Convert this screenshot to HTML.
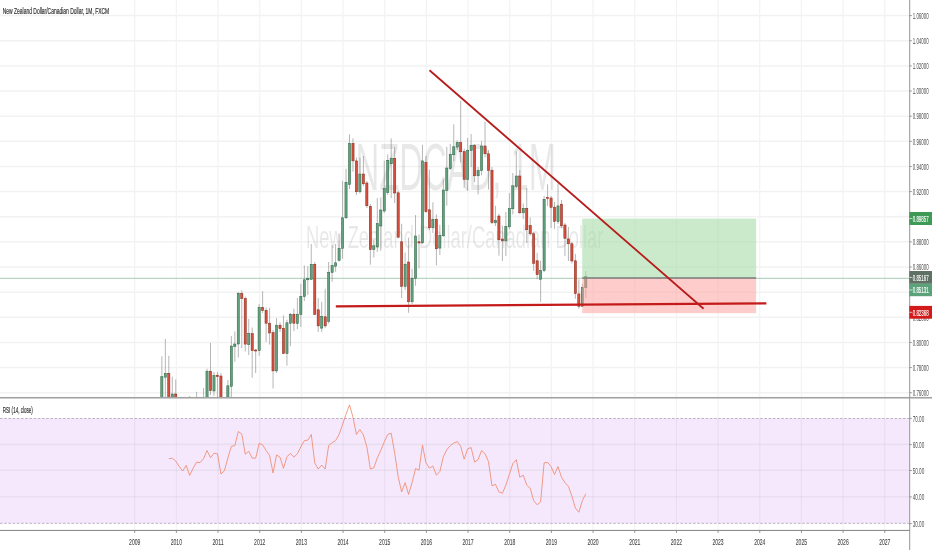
<!DOCTYPE html>
<html lang="en"><head><meta charset="utf-8"><title>NZDCAD 1M chart</title>
<style>html,body{margin:0;padding:0;background:#fff}body{width:932px;height:550px;overflow:hidden}svg{display:block}text{font-family:"Liberation Sans",Arial,sans-serif}</style>
</head><body>
<svg width="932" height="550" viewBox="0 0 932 550">
<rect width="932" height="550" fill="#ffffff"/>
<defs>
<clipPath id="mainclip"><rect x="0" y="0" width="909.7" height="397.3"/></clipPath>
</defs>
<g stroke="#f2f2f2" stroke-width="1.5">
<line x1="0" y1="15.60" x2="909.7" y2="15.60"/>
<line x1="0" y1="40.74" x2="909.7" y2="40.74"/>
<line x1="0" y1="65.88" x2="909.7" y2="65.88"/>
<line x1="0" y1="91.02" x2="909.7" y2="91.02"/>
<line x1="0" y1="116.16" x2="909.7" y2="116.16"/>
<line x1="0" y1="141.30" x2="909.7" y2="141.30"/>
<line x1="0" y1="166.44" x2="909.7" y2="166.44"/>
<line x1="0" y1="191.58" x2="909.7" y2="191.58"/>
<line x1="0" y1="216.72" x2="909.7" y2="216.72"/>
<line x1="0" y1="241.86" x2="909.7" y2="241.86"/>
<line x1="0" y1="267.00" x2="909.7" y2="267.00"/>
<line x1="0" y1="292.14" x2="909.7" y2="292.14"/>
<line x1="0" y1="317.28" x2="909.7" y2="317.28"/>
<line x1="0" y1="342.42" x2="909.7" y2="342.42"/>
<line x1="0" y1="367.56" x2="909.7" y2="367.56"/>
<line x1="0" y1="392.70" x2="909.7" y2="392.70"/>
<line x1="134.70" y1="0" x2="134.70" y2="397.3" stroke="#f3f3f3" stroke-width="1.25"/>
<line x1="176.37" y1="0" x2="176.37" y2="397.3" stroke="#f3f3f3" stroke-width="1.25"/>
<line x1="218.04" y1="0" x2="218.04" y2="397.3" stroke="#f3f3f3" stroke-width="1.25"/>
<line x1="259.71" y1="0" x2="259.71" y2="397.3" stroke="#f3f3f3" stroke-width="1.25"/>
<line x1="301.38" y1="0" x2="301.38" y2="397.3" stroke="#f3f3f3" stroke-width="1.25"/>
<line x1="343.05" y1="0" x2="343.05" y2="397.3" stroke="#f3f3f3" stroke-width="1.25"/>
<line x1="384.72" y1="0" x2="384.72" y2="397.3" stroke="#f3f3f3" stroke-width="1.25"/>
<line x1="426.39" y1="0" x2="426.39" y2="397.3" stroke="#f3f3f3" stroke-width="1.25"/>
<line x1="468.06" y1="0" x2="468.06" y2="397.3" stroke="#f3f3f3" stroke-width="1.25"/>
<line x1="509.73" y1="0" x2="509.73" y2="397.3" stroke="#f3f3f3" stroke-width="1.25"/>
<line x1="551.40" y1="0" x2="551.40" y2="397.3" stroke="#f3f3f3" stroke-width="1.25"/>
<line x1="593.07" y1="0" x2="593.07" y2="397.3" stroke="#f3f3f3" stroke-width="1.25"/>
<line x1="634.74" y1="0" x2="634.74" y2="397.3" stroke="#f3f3f3" stroke-width="1.25"/>
<line x1="676.41" y1="0" x2="676.41" y2="397.3" stroke="#f3f3f3" stroke-width="1.25"/>
<line x1="718.08" y1="0" x2="718.08" y2="397.3" stroke="#f3f3f3" stroke-width="1.25"/>
<line x1="759.75" y1="0" x2="759.75" y2="397.3" stroke="#f3f3f3" stroke-width="1.25"/>
<line x1="801.42" y1="0" x2="801.42" y2="397.3" stroke="#f3f3f3" stroke-width="1.25"/>
<line x1="843.09" y1="0" x2="843.09" y2="397.3" stroke="#f3f3f3" stroke-width="1.25"/>
<line x1="884.76" y1="0" x2="884.76" y2="397.3" stroke="#f3f3f3" stroke-width="1.25"/>
</g>
<g fill="#000000" fill-opacity="0.092">
<text x="355.6" y="190.3" font-size="66" textLength="200.5" lengthAdjust="spacingAndGlyphs">NZDCAD, 1M</text>
<text x="305.9" y="248.2" font-size="30.7" textLength="297.5" lengthAdjust="spacingAndGlyphs">New Zealand Dollar/Canadian Dollar</text>
</g>
<line x1="0" y1="278.3" x2="909.7" y2="278.3" stroke="#9cc6ac" stroke-width="0.9"/>
<g clip-path="url(#mainclip)">
<g stroke="#737375" stroke-width="0.7" stroke-opacity="0.75"><line x1="161.85" y1="356.3" x2="161.85" y2="410.0"/><line x1="165.33" y1="339.0" x2="165.33" y2="400.0"/><line x1="168.80" y1="355.8" x2="168.80" y2="405.0"/><line x1="172.28" y1="376.7" x2="172.28" y2="402.0"/><line x1="175.75" y1="379.5" x2="175.75" y2="405.0"/><line x1="189.65" y1="396.0" x2="189.65" y2="400.0"/><line x1="196.60" y1="391.8" x2="196.60" y2="400.0"/><line x1="203.55" y1="388.0" x2="203.55" y2="400.0"/><line x1="207.03" y1="368.7" x2="207.03" y2="405.0"/><line x1="210.50" y1="342.9" x2="210.50" y2="395.0"/><line x1="213.98" y1="372.0" x2="213.98" y2="396.0"/><line x1="217.45" y1="372.0" x2="217.45" y2="400.0"/><line x1="220.93" y1="373.0" x2="220.93" y2="405.0"/><line x1="227.88" y1="380.0" x2="227.88" y2="405.0"/><line x1="231.35" y1="336.0" x2="231.35" y2="397.0"/><line x1="234.83" y1="331.4" x2="234.83" y2="361.8"/><line x1="238.30" y1="292.0" x2="238.30" y2="357.5"/><line x1="241.78" y1="290.3" x2="241.78" y2="348.0"/><line x1="245.25" y1="296.6" x2="245.25" y2="351.5"/><line x1="248.73" y1="318.9" x2="248.73" y2="355.0"/><line x1="252.20" y1="327.5" x2="252.20" y2="377.8"/><line x1="255.68" y1="349.0" x2="255.68" y2="373.0"/><line x1="259.15" y1="304.0" x2="259.15" y2="355.8"/><line x1="262.62" y1="291.3" x2="262.62" y2="313.0"/><line x1="266.10" y1="307.5" x2="266.10" y2="342.0"/><line x1="269.58" y1="307.7" x2="269.58" y2="344.6"/><line x1="273.05" y1="330.0" x2="273.05" y2="388.4"/><line x1="276.52" y1="318.0" x2="276.52" y2="373.0"/><line x1="280.00" y1="322.4" x2="280.00" y2="332.0"/><line x1="283.48" y1="315.4" x2="283.48" y2="354.0"/><line x1="286.95" y1="319.7" x2="286.95" y2="365.7"/><line x1="290.43" y1="313.0" x2="290.43" y2="346.3"/><line x1="293.90" y1="308.6" x2="293.90" y2="331.0"/><line x1="297.38" y1="298.0" x2="297.38" y2="329.0"/><line x1="300.85" y1="283.8" x2="300.85" y2="327.0"/><line x1="304.33" y1="265.4" x2="304.33" y2="301.0"/><line x1="307.80" y1="266.3" x2="307.80" y2="295.0"/><line x1="311.27" y1="244.0" x2="311.27" y2="280.0"/><line x1="314.75" y1="262.0" x2="314.75" y2="315.0"/><line x1="318.23" y1="298.0" x2="318.23" y2="332.0"/><line x1="321.70" y1="301.8" x2="321.70" y2="332.0"/><line x1="325.18" y1="288.8" x2="325.18" y2="328.0"/><line x1="328.65" y1="262.0" x2="328.65" y2="323.6"/><line x1="332.12" y1="245.2" x2="332.12" y2="281.8"/><line x1="335.60" y1="244.0" x2="335.60" y2="271.8"/><line x1="339.08" y1="233.5" x2="339.08" y2="261.5"/><line x1="342.55" y1="180.8" x2="342.55" y2="258.7"/><line x1="346.02" y1="168.8" x2="346.02" y2="219.0"/><line x1="349.50" y1="134.3" x2="349.50" y2="189.0"/><line x1="352.98" y1="138.3" x2="352.98" y2="171.8"/><line x1="356.45" y1="157.5" x2="356.45" y2="195.0"/><line x1="359.93" y1="157.5" x2="359.93" y2="193.6"/><line x1="363.40" y1="156.0" x2="363.40" y2="186.0"/><line x1="366.88" y1="181.0" x2="366.88" y2="208.0"/><line x1="370.35" y1="204.0" x2="370.35" y2="264.7"/><line x1="373.83" y1="240.0" x2="373.83" y2="257.5"/><line x1="377.30" y1="198.0" x2="377.30" y2="252.0"/><line x1="380.77" y1="197.4" x2="380.77" y2="250.8"/><line x1="384.25" y1="160.6" x2="384.25" y2="213.0"/><line x1="387.73" y1="154.5" x2="387.73" y2="195.0"/><line x1="391.20" y1="138.3" x2="391.20" y2="198.1"/><line x1="394.68" y1="147.0" x2="394.68" y2="203.0"/><line x1="398.15" y1="190.6" x2="398.15" y2="238.3"/><line x1="401.62" y1="223.8" x2="401.62" y2="298.0"/><line x1="405.10" y1="252.6" x2="405.10" y2="290.0"/><line x1="408.58" y1="237.6" x2="408.58" y2="312.8"/><line x1="412.05" y1="268.8" x2="412.05" y2="304.0"/><line x1="415.53" y1="215.0" x2="415.53" y2="285.8"/><line x1="419.00" y1="234.6" x2="419.00" y2="268.3"/><line x1="422.48" y1="144.8" x2="422.48" y2="244.0"/><line x1="425.95" y1="156.0" x2="425.95" y2="212.8"/><line x1="429.43" y1="169.6" x2="429.43" y2="230.0"/><line x1="432.90" y1="202.3" x2="432.90" y2="233.0"/><line x1="436.38" y1="214.3" x2="436.38" y2="265.4"/><line x1="439.85" y1="224.8" x2="439.85" y2="254.9"/><line x1="443.33" y1="179.3" x2="443.33" y2="236.8"/><line x1="446.80" y1="146.9" x2="446.80" y2="205.7"/><line x1="450.28" y1="144.0" x2="450.28" y2="170.0"/><line x1="453.75" y1="124.3" x2="453.75" y2="161.3"/><line x1="457.23" y1="140.3" x2="457.23" y2="150.0"/><line x1="460.70" y1="100.8" x2="460.70" y2="162.5"/><line x1="464.18" y1="148.6" x2="464.18" y2="188.0"/><line x1="467.65" y1="137.9" x2="467.65" y2="191.0"/><line x1="471.12" y1="134.0" x2="471.12" y2="167.0"/><line x1="474.60" y1="144.0" x2="474.60" y2="182.0"/><line x1="478.08" y1="167.0" x2="478.08" y2="194.4"/><line x1="481.55" y1="141.0" x2="481.55" y2="175.3"/><line x1="485.03" y1="121.8" x2="485.03" y2="157.5"/><line x1="488.50" y1="150.0" x2="488.50" y2="189.6"/><line x1="491.98" y1="167.0" x2="491.98" y2="224.0"/><line x1="495.45" y1="205.8" x2="495.45" y2="226.0"/><line x1="498.93" y1="213.6" x2="498.93" y2="255.7"/><line x1="502.40" y1="225.6" x2="502.40" y2="261.0"/><line x1="505.88" y1="212.0" x2="505.88" y2="256.0"/><line x1="509.35" y1="193.0" x2="509.35" y2="229.5"/><line x1="512.83" y1="173.0" x2="512.83" y2="214.4"/><line x1="516.30" y1="151.3" x2="516.30" y2="188.0"/><line x1="519.78" y1="170.0" x2="519.78" y2="214.0"/><line x1="523.25" y1="203.5" x2="523.25" y2="219.0"/><line x1="526.73" y1="188.2" x2="526.73" y2="243.0"/><line x1="530.20" y1="217.5" x2="530.20" y2="235.6"/><line x1="533.67" y1="232.0" x2="533.67" y2="271.0"/><line x1="537.15" y1="252.8" x2="537.15" y2="279.3"/><line x1="540.62" y1="260.7" x2="540.62" y2="301.8"/><line x1="544.10" y1="196.0" x2="544.10" y2="272.0"/><line x1="547.58" y1="184.3" x2="547.58" y2="206.0"/><line x1="551.05" y1="196.0" x2="551.05" y2="228.0"/><line x1="554.53" y1="201.8" x2="554.53" y2="228.8"/><line x1="558.00" y1="183.6" x2="558.00" y2="224.0"/><line x1="561.48" y1="200.0" x2="561.48" y2="228.0"/><line x1="564.95" y1="223.0" x2="564.95" y2="256.0"/><line x1="568.42" y1="227.0" x2="568.42" y2="261.0"/><line x1="571.90" y1="242.0" x2="571.90" y2="263.5"/><line x1="575.38" y1="254.0" x2="575.38" y2="298.8"/><line x1="578.85" y1="279.3" x2="578.85" y2="308.6"/><line x1="582.33" y1="283.8" x2="582.33" y2="307.0"/><line x1="585.80" y1="271.0" x2="585.80" y2="298.0"/></g>
<rect x="160.75" y="376.7" width="2.2" height="33.3" fill="#63a07d" stroke="#2c6443" stroke-width="0.5"/><rect x="164.23" y="373.3" width="2.2" height="3.9" fill="#63a07d" stroke="#2c6443" stroke-width="0.5"/><rect x="167.70" y="373.3" width="2.2" height="31.7" fill="#d44f3d" stroke="#85281b" stroke-width="0.5"/><rect x="171.18" y="394.0" width="2.2" height="8.0" fill="#63a07d" stroke="#2c6443" stroke-width="0.5"/><rect x="174.65" y="394.0" width="2.2" height="11.0" fill="#d44f3d" stroke="#85281b" stroke-width="0.5"/><rect x="205.93" y="371.2" width="2.2" height="33.8" fill="#63a07d" stroke="#2c6443" stroke-width="0.5"/><rect x="209.40" y="371.2" width="2.2" height="19.4" fill="#d44f3d" stroke="#85281b" stroke-width="0.5"/><rect x="212.88" y="375.5" width="2.2" height="15.5" fill="#63a07d" stroke="#2c6443" stroke-width="0.5"/><rect x="216.35" y="375.2" width="2.2" height="1.5" fill="#d44f3d" stroke="#85281b" stroke-width="0.5"/><rect x="219.83" y="376.0" width="2.2" height="29.0" fill="#d44f3d" stroke="#85281b" stroke-width="0.5"/><rect x="226.78" y="385.8" width="2.2" height="19.2" fill="#63a07d" stroke="#2c6443" stroke-width="0.5"/><rect x="230.25" y="346.0" width="2.2" height="40.3" fill="#63a07d" stroke="#2c6443" stroke-width="0.5"/><rect x="233.73" y="344.0" width="2.2" height="2.7" fill="#63a07d" stroke="#2c6443" stroke-width="0.5"/><rect x="237.20" y="293.3" width="2.2" height="50.7" fill="#63a07d" stroke="#2c6443" stroke-width="0.5"/><rect x="240.68" y="293.6" width="2.2" height="5.0" fill="#d44f3d" stroke="#85281b" stroke-width="0.5"/><rect x="244.15" y="298.6" width="2.2" height="45.5" fill="#d44f3d" stroke="#85281b" stroke-width="0.5"/><rect x="247.63" y="333.5" width="2.2" height="11.1" fill="#63a07d" stroke="#2c6443" stroke-width="0.5"/><rect x="251.10" y="333.5" width="2.2" height="17.1" fill="#d44f3d" stroke="#85281b" stroke-width="0.5"/><rect x="254.58" y="350.0" width="2.2" height="1.0" fill="#d44f3d" stroke="#85281b" stroke-width="0.5"/><rect x="258.05" y="307.3" width="2.2" height="43.3" fill="#63a07d" stroke="#2c6443" stroke-width="0.5"/><rect x="261.52" y="307.4" width="2.2" height="3.2" fill="#d44f3d" stroke="#85281b" stroke-width="0.5"/><rect x="265.00" y="310.3" width="2.2" height="12.9" fill="#d44f3d" stroke="#85281b" stroke-width="0.5"/><rect x="268.48" y="323.2" width="2.2" height="9.8" fill="#d44f3d" stroke="#85281b" stroke-width="0.5"/><rect x="271.95" y="332.6" width="2.2" height="38.3" fill="#d44f3d" stroke="#85281b" stroke-width="0.5"/><rect x="275.42" y="325.2" width="2.2" height="45.7" fill="#63a07d" stroke="#2c6443" stroke-width="0.5"/><rect x="278.90" y="325.2" width="2.2" height="3.5" fill="#d44f3d" stroke="#85281b" stroke-width="0.5"/><rect x="282.38" y="328.3" width="2.2" height="25.3" fill="#d44f3d" stroke="#85281b" stroke-width="0.5"/><rect x="285.85" y="322.8" width="2.2" height="30.8" fill="#63a07d" stroke="#2c6443" stroke-width="0.5"/><rect x="289.32" y="314.2" width="2.2" height="9.0" fill="#63a07d" stroke="#2c6443" stroke-width="0.5"/><rect x="292.80" y="314.2" width="2.2" height="9.0" fill="#d44f3d" stroke="#85281b" stroke-width="0.5"/><rect x="296.27" y="314.2" width="2.2" height="9.3" fill="#63a07d" stroke="#2c6443" stroke-width="0.5"/><rect x="299.75" y="296.3" width="2.2" height="18.3" fill="#63a07d" stroke="#2c6443" stroke-width="0.5"/><rect x="303.23" y="279.8" width="2.2" height="16.8" fill="#63a07d" stroke="#2c6443" stroke-width="0.5"/><rect x="306.70" y="278.6" width="2.2" height="1.2" fill="#63a07d" stroke="#2c6443" stroke-width="0.5"/><rect x="310.17" y="264.3" width="2.2" height="15.0" fill="#63a07d" stroke="#2c6443" stroke-width="0.5"/><rect x="313.65" y="264.3" width="2.2" height="50.0" fill="#d44f3d" stroke="#85281b" stroke-width="0.5"/><rect x="317.12" y="309.8" width="2.2" height="16.1" fill="#d44f3d" stroke="#85281b" stroke-width="0.5"/><rect x="320.60" y="316.5" width="2.2" height="11.6" fill="#63a07d" stroke="#2c6443" stroke-width="0.5"/><rect x="324.07" y="316.8" width="2.2" height="9.1" fill="#d44f3d" stroke="#85281b" stroke-width="0.5"/><rect x="327.55" y="272.2" width="2.2" height="49.2" fill="#63a07d" stroke="#2c6443" stroke-width="0.5"/><rect x="331.02" y="265.5" width="2.2" height="7.0" fill="#63a07d" stroke="#2c6443" stroke-width="0.5"/><rect x="334.50" y="262.8" width="2.2" height="3.4" fill="#63a07d" stroke="#2c6443" stroke-width="0.5"/><rect x="337.98" y="248.3" width="2.2" height="12.0" fill="#63a07d" stroke="#2c6443" stroke-width="0.5"/><rect x="341.45" y="217.8" width="2.2" height="30.6" fill="#63a07d" stroke="#2c6443" stroke-width="0.5"/><rect x="344.92" y="182.3" width="2.2" height="35.5" fill="#63a07d" stroke="#2c6443" stroke-width="0.5"/><rect x="348.40" y="143.3" width="2.2" height="41.3" fill="#63a07d" stroke="#2c6443" stroke-width="0.5"/><rect x="351.88" y="143.3" width="2.2" height="17.6" fill="#d44f3d" stroke="#85281b" stroke-width="0.5"/><rect x="355.35" y="160.9" width="2.2" height="30.9" fill="#d44f3d" stroke="#85281b" stroke-width="0.5"/><rect x="358.82" y="174.0" width="2.2" height="17.8" fill="#63a07d" stroke="#2c6443" stroke-width="0.5"/><rect x="362.30" y="174.0" width="2.2" height="9.8" fill="#d44f3d" stroke="#85281b" stroke-width="0.5"/><rect x="365.77" y="183.0" width="2.2" height="22.8" fill="#d44f3d" stroke="#85281b" stroke-width="0.5"/><rect x="369.25" y="206.3" width="2.2" height="43.3" fill="#d44f3d" stroke="#85281b" stroke-width="0.5"/><rect x="372.73" y="245.8" width="2.2" height="3.8" fill="#63a07d" stroke="#2c6443" stroke-width="0.5"/><rect x="376.20" y="223.6" width="2.2" height="23.4" fill="#63a07d" stroke="#2c6443" stroke-width="0.5"/><rect x="379.67" y="210.0" width="2.2" height="16.0" fill="#63a07d" stroke="#2c6443" stroke-width="0.5"/><rect x="383.15" y="188.6" width="2.2" height="22.4" fill="#63a07d" stroke="#2c6443" stroke-width="0.5"/><rect x="386.62" y="160.3" width="2.2" height="32.3" fill="#63a07d" stroke="#2c6443" stroke-width="0.5"/><rect x="390.10" y="158.2" width="2.2" height="5.6" fill="#63a07d" stroke="#2c6443" stroke-width="0.5"/><rect x="393.57" y="158.3" width="2.2" height="34.7" fill="#d44f3d" stroke="#85281b" stroke-width="0.5"/><rect x="397.05" y="192.8" width="2.2" height="44.4" fill="#d44f3d" stroke="#85281b" stroke-width="0.5"/><rect x="400.52" y="241.8" width="2.2" height="44.7" fill="#d44f3d" stroke="#85281b" stroke-width="0.5"/><rect x="404.00" y="264.2" width="2.2" height="22.3" fill="#63a07d" stroke="#2c6443" stroke-width="0.5"/><rect x="407.48" y="262.0" width="2.2" height="39.8" fill="#d44f3d" stroke="#85281b" stroke-width="0.5"/><rect x="410.95" y="278.2" width="2.2" height="23.6" fill="#63a07d" stroke="#2c6443" stroke-width="0.5"/><rect x="414.43" y="236.0" width="2.2" height="42.5" fill="#63a07d" stroke="#2c6443" stroke-width="0.5"/><rect x="417.90" y="241.8" width="2.2" height="1.2" fill="#d44f3d" stroke="#85281b" stroke-width="0.5"/><rect x="421.38" y="160.9" width="2.2" height="81.9" fill="#63a07d" stroke="#2c6443" stroke-width="0.5"/><rect x="424.85" y="162.4" width="2.2" height="49.3" fill="#d44f3d" stroke="#85281b" stroke-width="0.5"/><rect x="428.32" y="209.8" width="2.2" height="18.0" fill="#d44f3d" stroke="#85281b" stroke-width="0.5"/><rect x="431.80" y="219.2" width="2.2" height="8.6" fill="#63a07d" stroke="#2c6443" stroke-width="0.5"/><rect x="435.27" y="219.2" width="2.2" height="29.6" fill="#d44f3d" stroke="#85281b" stroke-width="0.5"/><rect x="438.75" y="235.3" width="2.2" height="12.8" fill="#63a07d" stroke="#2c6443" stroke-width="0.5"/><rect x="442.23" y="190.0" width="2.2" height="45.8" fill="#63a07d" stroke="#2c6443" stroke-width="0.5"/><rect x="445.70" y="168.0" width="2.2" height="22.5" fill="#63a07d" stroke="#2c6443" stroke-width="0.5"/><rect x="449.18" y="154.4" width="2.2" height="14.3" fill="#63a07d" stroke="#2c6443" stroke-width="0.5"/><rect x="452.65" y="146.8" width="2.2" height="8.0" fill="#63a07d" stroke="#2c6443" stroke-width="0.5"/><rect x="456.12" y="142.5" width="2.2" height="4.6" fill="#63a07d" stroke="#2c6443" stroke-width="0.5"/><rect x="459.60" y="142.6" width="2.2" height="9.2" fill="#d44f3d" stroke="#85281b" stroke-width="0.5"/><rect x="463.07" y="151.7" width="2.2" height="27.7" fill="#d44f3d" stroke="#85281b" stroke-width="0.5"/><rect x="466.55" y="150.2" width="2.2" height="29.2" fill="#63a07d" stroke="#2c6443" stroke-width="0.5"/><rect x="470.02" y="145.3" width="2.2" height="5.2" fill="#63a07d" stroke="#2c6443" stroke-width="0.5"/><rect x="473.50" y="145.5" width="2.2" height="30.3" fill="#d44f3d" stroke="#85281b" stroke-width="0.5"/><rect x="476.98" y="170.5" width="2.2" height="5.3" fill="#63a07d" stroke="#2c6443" stroke-width="0.5"/><rect x="480.45" y="146.0" width="2.2" height="24.6" fill="#63a07d" stroke="#2c6443" stroke-width="0.5"/><rect x="483.93" y="146.0" width="2.2" height="7.8" fill="#d44f3d" stroke="#85281b" stroke-width="0.5"/><rect x="487.40" y="153.8" width="2.2" height="16.7" fill="#d44f3d" stroke="#85281b" stroke-width="0.5"/><rect x="490.88" y="170.2" width="2.2" height="52.5" fill="#d44f3d" stroke="#85281b" stroke-width="0.5"/><rect x="494.35" y="220.2" width="2.2" height="2.6" fill="#63a07d" stroke="#2c6443" stroke-width="0.5"/><rect x="497.82" y="216.0" width="2.2" height="23.8" fill="#d44f3d" stroke="#85281b" stroke-width="0.5"/><rect x="501.30" y="239.0" width="2.2" height="1.9" fill="#d44f3d" stroke="#85281b" stroke-width="0.5"/><rect x="504.77" y="226.4" width="2.2" height="14.5" fill="#63a07d" stroke="#2c6443" stroke-width="0.5"/><rect x="508.25" y="208.3" width="2.2" height="18.5" fill="#63a07d" stroke="#2c6443" stroke-width="0.5"/><rect x="511.73" y="185.8" width="2.2" height="23.0" fill="#63a07d" stroke="#2c6443" stroke-width="0.5"/><rect x="515.20" y="176.0" width="2.2" height="10.4" fill="#63a07d" stroke="#2c6443" stroke-width="0.5"/><rect x="518.68" y="176.0" width="2.2" height="36.8" fill="#d44f3d" stroke="#85281b" stroke-width="0.5"/><rect x="522.15" y="208.3" width="2.2" height="4.5" fill="#63a07d" stroke="#2c6443" stroke-width="0.5"/><rect x="525.62" y="208.3" width="2.2" height="21.5" fill="#d44f3d" stroke="#85281b" stroke-width="0.5"/><rect x="529.10" y="225.5" width="2.2" height="8.3" fill="#d44f3d" stroke="#85281b" stroke-width="0.5"/><rect x="532.57" y="233.8" width="2.2" height="29.5" fill="#d44f3d" stroke="#85281b" stroke-width="0.5"/><rect x="536.05" y="260.8" width="2.2" height="13.9" fill="#d44f3d" stroke="#85281b" stroke-width="0.5"/><rect x="539.52" y="270.4" width="2.2" height="8.9" fill="#63a07d" stroke="#2c6443" stroke-width="0.5"/><rect x="543.00" y="199.3" width="2.2" height="71.3" fill="#63a07d" stroke="#2c6443" stroke-width="0.5"/><rect x="546.48" y="197.3" width="2.2" height="1.2" fill="#d44f3d" stroke="#85281b" stroke-width="0.5"/><rect x="549.95" y="198.0" width="2.2" height="9.3" fill="#d44f3d" stroke="#85281b" stroke-width="0.5"/><rect x="553.43" y="207.2" width="2.2" height="14.1" fill="#d44f3d" stroke="#85281b" stroke-width="0.5"/><rect x="556.90" y="205.9" width="2.2" height="15.8" fill="#63a07d" stroke="#2c6443" stroke-width="0.5"/><rect x="560.38" y="204.2" width="2.2" height="21.6" fill="#d44f3d" stroke="#85281b" stroke-width="0.5"/><rect x="563.85" y="225.0" width="2.2" height="13.3" fill="#d44f3d" stroke="#85281b" stroke-width="0.5"/><rect x="567.32" y="238.9" width="2.2" height="4.9" fill="#d44f3d" stroke="#85281b" stroke-width="0.5"/><rect x="570.80" y="243.8" width="2.2" height="17.2" fill="#d44f3d" stroke="#85281b" stroke-width="0.5"/><rect x="574.27" y="260.8" width="2.2" height="32.8" fill="#d44f3d" stroke="#85281b" stroke-width="0.5"/><rect x="577.75" y="293.9" width="2.2" height="12.4" fill="#d44f3d" stroke="#85281b" stroke-width="0.5"/><rect x="581.23" y="287.3" width="2.2" height="19.0" fill="#63a07d" stroke="#2c6443" stroke-width="0.5"/><rect x="584.70" y="276.3" width="2.2" height="11.3" fill="#63a07d" stroke="#2c6443" stroke-width="0.5"/>
</g>
<rect x="582.2" y="218.6" width="173.9" height="59.4" fill="#a9dcaa" fill-opacity="0.6"/>
<rect x="582.2" y="278" width="173.9" height="35.1" fill="#ff9a9a" fill-opacity="0.5"/>
<line x1="582.2" y1="278" x2="756.1" y2="278" stroke="#7c7c7c" stroke-width="1.5"/>
<line x1="429.5" y1="70.2" x2="703.6" y2="308.7" stroke="#b71c1c" stroke-width="1.8" stroke-linecap="butt"/>
<line x1="335.8" y1="306.3" x2="766.4" y2="303.4" stroke="#c41a1a" stroke-width="2.2"/>
<rect x="0" y="396.95" width="932" height="1.6" fill="#a3a3a3"/>
<rect x="0" y="418.5" width="909.3000000000001" height="104.8" fill="#f5e8fd"/>
<g stroke="#e9def0" stroke-width="1.6">
<line x1="0" y1="444.4" x2="909.7" y2="444.4"/>
<line x1="0" y1="470.3" x2="909.7" y2="470.3"/>
<line x1="0" y1="496.7" x2="909.7" y2="496.7"/>
</g>
<g stroke="#000000" stroke-opacity="0.045" stroke-width="1.25">
<line x1="134.70" y1="398.5" x2="134.70" y2="530"/>
<line x1="176.37" y1="398.5" x2="176.37" y2="530"/>
<line x1="218.04" y1="398.5" x2="218.04" y2="530"/>
<line x1="259.71" y1="398.5" x2="259.71" y2="530"/>
<line x1="301.38" y1="398.5" x2="301.38" y2="530"/>
<line x1="343.05" y1="398.5" x2="343.05" y2="530"/>
<line x1="384.72" y1="398.5" x2="384.72" y2="530"/>
<line x1="426.39" y1="398.5" x2="426.39" y2="530"/>
<line x1="468.06" y1="398.5" x2="468.06" y2="530"/>
<line x1="509.73" y1="398.5" x2="509.73" y2="530"/>
<line x1="551.40" y1="398.5" x2="551.40" y2="530"/>
<line x1="593.07" y1="398.5" x2="593.07" y2="530"/>
<line x1="634.74" y1="398.5" x2="634.74" y2="530"/>
<line x1="676.41" y1="398.5" x2="676.41" y2="530"/>
<line x1="718.08" y1="398.5" x2="718.08" y2="530"/>
<line x1="759.75" y1="398.5" x2="759.75" y2="530"/>
<line x1="801.42" y1="398.5" x2="801.42" y2="530"/>
<line x1="843.09" y1="398.5" x2="843.09" y2="530"/>
<line x1="884.76" y1="398.5" x2="884.76" y2="530"/>
</g>
<g stroke="#b4aabb" stroke-width="0.9" stroke-dasharray="2.6 1.6"><line x1="0" y1="418.5" x2="909.7" y2="418.5"/><line x1="0" y1="523.3" x2="909.7" y2="523.3"/></g>
<polyline fill="none" stroke="#ef8565" stroke-width="0.8" stroke-linejoin="round" points="168.80,458.67 172.28,458.18 175.75,461.14 179.23,466.57 182.70,471.01 186.18,465.34 189.65,475.45 193.12,468.30 196.60,462.13 200.08,462.62 203.55,458.67 207.03,450.53 210.50,457.69 213.98,453.24 217.45,453.74 220.93,473.97 224.40,470.77 227.88,457.93 231.35,446.33 234.83,445.59 238.30,431.53 241.78,433.99 245.25,454.23 248.73,451.27 252.20,458.18 255.68,458.18 259.15,443.37 262.62,444.85 266.10,450.53 269.58,455.46 273.05,472.99 276.52,454.97 280.00,457.19 283.48,468.30 286.95,456.70 290.43,453.49 293.90,457.19 297.38,453.74 300.85,446.83 304.33,440.66 307.80,440.16 311.27,434.49 314.75,462.87 318.23,469.04 321.70,465.09 325.18,469.04 328.65,445.59 332.12,442.63 335.60,440.66 339.08,434.49 342.55,424.62 346.02,414.25 349.50,404.87 352.98,417.21 356.45,434.49 359.93,429.55 363.40,434.98 366.88,446.83 370.35,469.04 373.83,467.80 377.30,457.93 380.77,450.53 384.25,441.89 387.73,434.49 391.20,433.25 394.68,453.00 398.15,476.44 401.62,491.99 405.10,482.61 408.58,494.46 412.05,482.61 415.53,468.54 419.00,470.27 422.48,445.10 425.95,462.87 429.43,468.05 432.90,466.08 436.38,475.21 439.85,471.51 443.33,456.70 446.80,449.79 450.28,445.59 453.75,443.12 457.23,441.64 460.70,446.33 464.18,459.17 467.65,448.80 471.12,447.57 474.60,462.13 478.08,459.66 481.55,450.53 485.03,453.74 488.50,461.63 491.98,485.82 495.45,484.34 498.93,491.99 502.40,493.22 505.88,485.08 509.35,474.47 512.83,463.61 516.30,459.66 519.78,477.18 523.25,475.21 526.73,485.08 530.20,488.29 533.67,500.63 537.15,504.82 540.62,501.86 544.10,462.87 547.58,462.37 551.05,466.57 554.53,474.47 558.00,466.57 561.48,477.18 564.95,482.61 568.42,486.31 571.90,496.18 575.38,508.03 578.85,512.23 582.33,500.63 585.80,493.72"/>
<rect x="909.2" y="0" width="1" height="550" fill="#959595"/>
<rect x="0" y="529.9" width="909.7" height="1.1" fill="#8c8c8c"/>
<g font-size="9.2" fill="#505050">
<rect x="909.7" y="15.10" width="2" height="1" fill="#8c8c8c"/>
<text x="912.7" y="18.90" textLength="16" lengthAdjust="spacingAndGlyphs">1.06000</text>
<rect x="909.7" y="40.24" width="2" height="1" fill="#8c8c8c"/>
<text x="912.7" y="44.04" textLength="16" lengthAdjust="spacingAndGlyphs">1.04000</text>
<rect x="909.7" y="65.38" width="2" height="1" fill="#8c8c8c"/>
<text x="912.7" y="69.18" textLength="16" lengthAdjust="spacingAndGlyphs">1.02000</text>
<rect x="909.7" y="90.52" width="2" height="1" fill="#8c8c8c"/>
<text x="912.7" y="94.32" textLength="16" lengthAdjust="spacingAndGlyphs">1.00000</text>
<rect x="909.7" y="115.66" width="2" height="1" fill="#8c8c8c"/>
<text x="912.7" y="119.46" textLength="16" lengthAdjust="spacingAndGlyphs">0.98000</text>
<rect x="909.7" y="140.80" width="2" height="1" fill="#8c8c8c"/>
<text x="912.7" y="144.60" textLength="16" lengthAdjust="spacingAndGlyphs">0.96000</text>
<rect x="909.7" y="165.94" width="2" height="1" fill="#8c8c8c"/>
<text x="912.7" y="169.74" textLength="16" lengthAdjust="spacingAndGlyphs">0.94000</text>
<rect x="909.7" y="191.08" width="2" height="1" fill="#8c8c8c"/>
<text x="912.7" y="194.88" textLength="16" lengthAdjust="spacingAndGlyphs">0.92000</text>
<rect x="909.7" y="216.22" width="2" height="1" fill="#8c8c8c"/>
<rect x="909.7" y="241.36" width="2" height="1" fill="#8c8c8c"/>
<text x="912.7" y="245.16" textLength="16" lengthAdjust="spacingAndGlyphs">0.88000</text>
<rect x="909.7" y="266.50" width="2" height="1" fill="#8c8c8c"/>
<text x="912.7" y="270.30" textLength="16" lengthAdjust="spacingAndGlyphs">0.86000</text>
<rect x="909.7" y="291.64" width="2" height="1" fill="#8c8c8c"/>
<rect x="909.7" y="316.78" width="2" height="1" fill="#8c8c8c"/>
<text x="912.7" y="320.58" textLength="16" lengthAdjust="spacingAndGlyphs">0.82000</text>
<rect x="909.7" y="341.92" width="2" height="1" fill="#8c8c8c"/>
<text x="912.7" y="345.72" textLength="16" lengthAdjust="spacingAndGlyphs">0.80000</text>
<rect x="909.7" y="367.06" width="2" height="1" fill="#8c8c8c"/>
<text x="912.7" y="370.86" textLength="16" lengthAdjust="spacingAndGlyphs">0.78000</text>
<rect x="909.7" y="392.20" width="2" height="1" fill="#8c8c8c"/>
<text x="912.7" y="396.00" textLength="16" lengthAdjust="spacingAndGlyphs">0.76000</text>
</g>
<rect x="909.3000000000001" y="212" width="22.699999999999953" height="13.0" fill="#3f9a56"/>
<rect x="909.7" y="218.00" width="2" height="1" fill="#ffffff" fill-opacity="0.8"/>
<text x="912.7" y="221.80" font-size="9.2" fill="#ffffff" stroke="#ffffff" stroke-width="0.15" textLength="16" lengthAdjust="spacingAndGlyphs">0.89857</text>
<rect x="909.3000000000001" y="271" width="22.699999999999953" height="12.8" fill="#5f7165"/>
<rect x="909.7" y="276.90" width="2" height="1" fill="#ffffff" fill-opacity="0.8"/>
<text x="912.7" y="280.70" font-size="9.2" fill="#ffffff" stroke="#ffffff" stroke-width="0.15" textLength="16" lengthAdjust="spacingAndGlyphs">0.85167</text>
<rect x="909.3000000000001" y="283.8" width="22.699999999999953" height="12.4" fill="#5ba27b"/>
<rect x="909.7" y="289.50" width="2" height="1" fill="#ffffff" fill-opacity="0.8"/>
<text x="912.7" y="293.30" font-size="9.2" fill="#ffffff" stroke="#ffffff" stroke-width="0.15" textLength="16" lengthAdjust="spacingAndGlyphs">0.85131</text>
<rect x="909.3000000000001" y="305.9" width="22.699999999999953" height="12.8" fill="#d31a1a"/>
<rect x="909.7" y="311.80" width="2" height="1" fill="#ffffff" fill-opacity="0.8"/>
<text x="912.7" y="315.60" font-size="9.2" fill="#ffffff" stroke="#ffffff" stroke-width="0.15" textLength="16" lengthAdjust="spacingAndGlyphs">0.82368</text>
<g font-size="9.2" fill="#505050">
<rect x="909.7" y="417.90" width="2" height="1" fill="#8c8c8c"/>
<text x="912.7" y="421.70" textLength="11.5" lengthAdjust="spacingAndGlyphs">70.00</text>
<rect x="909.7" y="444.10" width="2" height="1" fill="#8c8c8c"/>
<text x="912.7" y="447.90" textLength="11.5" lengthAdjust="spacingAndGlyphs">60.00</text>
<rect x="909.7" y="470.00" width="2" height="1" fill="#8c8c8c"/>
<text x="912.7" y="473.80" textLength="11.5" lengthAdjust="spacingAndGlyphs">50.00</text>
<rect x="909.7" y="496.40" width="2" height="1" fill="#8c8c8c"/>
<text x="912.7" y="500.20" textLength="11.5" lengthAdjust="spacingAndGlyphs">40.00</text>
<rect x="909.7" y="523.10" width="2" height="1" fill="#8c8c8c"/>
<text x="912.7" y="526.90" textLength="11.5" lengthAdjust="spacingAndGlyphs">30.00</text>
</g>
<g font-size="9.2" fill="#444444" stroke="#444444" stroke-width="0.1" text-anchor="middle">
<rect x="134.20" y="530.8" width="1" height="2" fill="#8c8c8c" stroke="none"/>
<text x="134.70" y="544.8" textLength="11.2" lengthAdjust="spacingAndGlyphs">2009</text>
<rect x="175.87" y="530.8" width="1" height="2" fill="#8c8c8c" stroke="none"/>
<text x="176.37" y="544.8" textLength="11.2" lengthAdjust="spacingAndGlyphs">2010</text>
<rect x="217.54" y="530.8" width="1" height="2" fill="#8c8c8c" stroke="none"/>
<text x="218.04" y="544.8" textLength="11.2" lengthAdjust="spacingAndGlyphs">2011</text>
<rect x="259.21" y="530.8" width="1" height="2" fill="#8c8c8c" stroke="none"/>
<text x="259.71" y="544.8" textLength="11.2" lengthAdjust="spacingAndGlyphs">2012</text>
<rect x="300.88" y="530.8" width="1" height="2" fill="#8c8c8c" stroke="none"/>
<text x="301.38" y="544.8" textLength="11.2" lengthAdjust="spacingAndGlyphs">2013</text>
<rect x="342.55" y="530.8" width="1" height="2" fill="#8c8c8c" stroke="none"/>
<text x="343.05" y="544.8" textLength="11.2" lengthAdjust="spacingAndGlyphs">2014</text>
<rect x="384.22" y="530.8" width="1" height="2" fill="#8c8c8c" stroke="none"/>
<text x="384.72" y="544.8" textLength="11.2" lengthAdjust="spacingAndGlyphs">2015</text>
<rect x="425.89" y="530.8" width="1" height="2" fill="#8c8c8c" stroke="none"/>
<text x="426.39" y="544.8" textLength="11.2" lengthAdjust="spacingAndGlyphs">2016</text>
<rect x="467.56" y="530.8" width="1" height="2" fill="#8c8c8c" stroke="none"/>
<text x="468.06" y="544.8" textLength="11.2" lengthAdjust="spacingAndGlyphs">2017</text>
<rect x="509.23" y="530.8" width="1" height="2" fill="#8c8c8c" stroke="none"/>
<text x="509.73" y="544.8" textLength="11.2" lengthAdjust="spacingAndGlyphs">2018</text>
<rect x="550.90" y="530.8" width="1" height="2" fill="#8c8c8c" stroke="none"/>
<text x="551.40" y="544.8" textLength="11.2" lengthAdjust="spacingAndGlyphs">2019</text>
<rect x="592.57" y="530.8" width="1" height="2" fill="#8c8c8c" stroke="none"/>
<text x="593.07" y="544.8" textLength="11.2" lengthAdjust="spacingAndGlyphs">2020</text>
<rect x="634.24" y="530.8" width="1" height="2" fill="#8c8c8c" stroke="none"/>
<text x="634.74" y="544.8" textLength="11.2" lengthAdjust="spacingAndGlyphs">2021</text>
<rect x="675.91" y="530.8" width="1" height="2" fill="#8c8c8c" stroke="none"/>
<text x="676.41" y="544.8" textLength="11.2" lengthAdjust="spacingAndGlyphs">2022</text>
<rect x="717.58" y="530.8" width="1" height="2" fill="#8c8c8c" stroke="none"/>
<text x="718.08" y="544.8" textLength="11.2" lengthAdjust="spacingAndGlyphs">2023</text>
<rect x="759.25" y="530.8" width="1" height="2" fill="#8c8c8c" stroke="none"/>
<text x="759.75" y="544.8" textLength="11.2" lengthAdjust="spacingAndGlyphs">2024</text>
<rect x="800.92" y="530.8" width="1" height="2" fill="#8c8c8c" stroke="none"/>
<text x="801.42" y="544.8" textLength="11.2" lengthAdjust="spacingAndGlyphs">2025</text>
<rect x="842.59" y="530.8" width="1" height="2" fill="#8c8c8c" stroke="none"/>
<text x="843.09" y="544.8" textLength="11.2" lengthAdjust="spacingAndGlyphs">2026</text>
<rect x="884.26" y="530.8" width="1" height="2" fill="#8c8c8c" stroke="none"/>
<text x="884.76" y="544.8" textLength="11.2" lengthAdjust="spacingAndGlyphs">2027</text>
</g>
<text x="2.8" y="14.4" font-size="8.9" fill="#333333" stroke="#333333" stroke-width="0.2" textLength="106.4" lengthAdjust="spacingAndGlyphs">New Zealand Dollar/Canadian Dollar, 1M, FXCM</text>
<text x="2.8" y="413" font-size="8.9" fill="#333333" stroke="#333333" stroke-width="0.2" textLength="30" lengthAdjust="spacingAndGlyphs">RSI (14, close)</text>
</svg></body></html>
